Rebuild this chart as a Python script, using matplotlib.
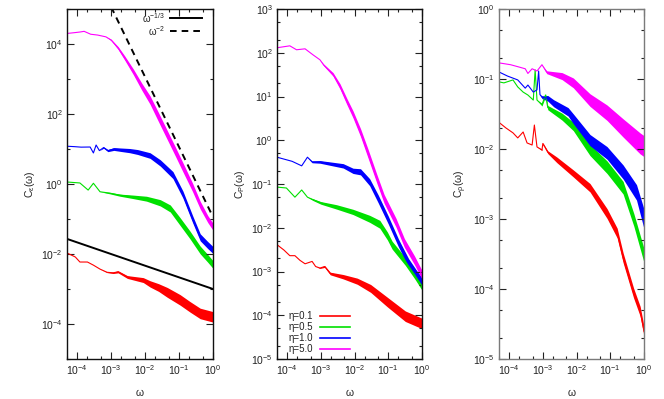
import numpy as np
import matplotlib
matplotlib.use("Agg")
import matplotlib.pyplot as plt
from matplotlib.ticker import FixedLocator, LogLocator, FuncFormatter, NullFormatter

plt.rcParams['font.family'] = ['Liberation Sans', 'DejaVu Sans']
plt.rcParams['mathtext.default'] = 'regular'

# ---------------- data ----------------
labels = ['η=0.1', 'η=0.5', 'η=1.0', 'η=5.0']
colors = ['#ff0000', '#00e000', '#0000ff', '#ff00ff']

# Panel 1: C_eps(omega)
eps01_w = [5e-5, 8.8e-5, 1.2e-4, 2e-4, 3e-4, 4.7e-4, 7.6e-4, 1.15e-3, 1.6e-3, 3e-3, 8.8e-3, 1.4e-2, 2.5e-2, 4.5e-2, 0.107, 0.21, 0.42, 1.0]
eps01_c = [0.0107, 0.0082, 0.0059, 0.0059, 0.0048, 0.0037, 0.003, 0.0029, 0.0031, 0.0022, 0.0018, 0.0014, 0.0011, 8e-4, 4.9e-4, 3.1e-4, 2.0e-4, 1.6e-4]
eps01_s = [0, 0, 0, 0, 0, 0, 0.01, 0.02, 0.03, 0.04, 0.07, 0.09, 0.11, 0.14, 0.15, 0.15, 0.15, 0.15]

eps05_w = [5e-5, 1.2e-4, 2.1e-4, 3e-4, 4.7e-4, 9e-4, 1.8e-3, 4.4e-3, 1.1e-2, 2.8e-2, 5.5e-2, 0.107, 0.21, 0.42, 0.7, 1.0]
eps05_c = [1.14, 1.07, 0.67, 1.05, 0.6, 0.55, 0.48, 0.43, 0.38, 0.29, 0.2, 0.085, 0.035, 0.013, 0.0075, 0.005]
eps05_s = [0, 0, 0, 0, 0, 0.02, 0.03, 0.05, 0.07, 0.09, 0.1, 0.11, 0.11, 0.11, 0.11, 0.11]

eps1_w = [5e-5, 8e-5, 1.3e-4, 2.4e-4, 3e-4, 3.6e-4, 4.5e-4, 6e-4, 8e-4, 1.2e-3, 2e-3, 3.5e-3, 6e-3, 1.4e-2, 2.8e-2, 6.6e-2, 0.13, 0.25, 0.42, 0.7, 1.0]
eps1_c = [12, 11.7, 11.3, 11.4, 7.7, 13, 9, 11, 9, 10, 9.5, 9, 8.2, 6.5, 4, 1.8, 0.5, 0.1, 0.03, 0.018, 0.013]
eps1_s = [0, 0, 0, 0, 0, 0, 0, 0.02, 0.03, 0.04, 0.05, 0.06, 0.07, 0.08, 0.09, 0.1, 0.1, 0.1, 0.1, 0.1, 0.1]

eps5_w = [5e-5, 8e-5, 1.2e-4, 1.6e-4, 2.5e-4, 4e-4, 7e-4, 1e-3, 1.6e-3, 2.5e-3, 4.5e-3, 8e-3, 1.4e-2, 2.5e-2, 4.5e-2, 8e-2, 0.13, 0.25, 0.42, 0.7, 1.0]
eps5_c = [2.0e4, 2.1e4, 2.2e4, 2.3e4, 1.9e4, 1.8e4, 1.6e4, 1.3e4, 7.7e3, 4e3, 1.6e3, 6e2, 2.5e2, 80, 25, 8, 3, 0.8, 0.25, 0.1, 0.06]
eps5_s = [0, 0, 0, 0, 0, 0, 0, 0.02, 0.04, 0.06, 0.08, 0.1, 0.12, 0.13, 0.13, 0.13, 0.13, 0.12, 0.11, 0.1, 0.1]

guide13_w = [5e-5, 1.0]
guide13_c = [0.027, 1e-3]
guide2_w = [1e-3, 1.0]
guide2_c = [1.14e5, 0.114]

# Panel 2: C_P(omega)
P01_w = [5e-5, 8e-5, 1.2e-4, 1.7e-4, 2.4e-4, 3.4e-4, 5.5e-4, 7e-4, 9.4e-4, 1.3e-3, 1.9e-3, 4.6e-3, 1.2e-2, 3e-2, 9.4e-2, 0.32, 1.0]
P01_c = [4.1e-3, 3.1e-3, 2.3e-3, 2.3e-3, 1.8e-3, 1.5e-3, 1.7e-3, 1.3e-3, 1.2e-3, 1.3e-3, 9e-4, 7.6e-4, 6e-4, 4.1e-4, 2e-4, 9.5e-5, 6.5e-5]
P01_s = [0, 0, 0, 0, 0, 0, 0, 0, 0.01, 0.02, 0.03, 0.05, 0.07, 0.09, 0.11, 0.12, 0.12]

P05_w = [5e-5, 9.5e-5, 1.7e-4, 2.7e-4, 4e-4, 5.8e-4, 1e-3, 2.9e-3, 9e-3, 2.8e-2, 5.6e-2, 9.4e-2, 0.13, 0.32, 0.6, 1.0]
P05_c = [0.085, 0.081, 0.05, 0.073, 0.05, 0.044, 0.037, 0.030, 0.023, 0.016, 0.012, 6.5e-3, 4e-3, 1.7e-3, 8.5e-4, 4.6e-4]
P05_s = [0, 0, 0, 0, 0, 0.02, 0.03, 0.05, 0.06, 0.08, 0.09, 0.09, 0.09, 0.09, 0.09, 0.09]

P1_w = [5e-5, 1.4e-4, 2.7e-4, 4e-4, 5.5e-4, 9.4e-4, 2e-3, 4.6e-3, 9e-3, 1.5e-2, 2.8e-2, 5e-2, 0.1, 0.2, 0.4, 0.7, 1.0]
P1_c = [0.41, 0.33, 0.26, 0.41, 0.32, 0.32, 0.29, 0.26, 0.2, 0.19, 0.11, 0.046, 0.015, 4.5e-3, 1.6e-3, 8.5e-4, 5.9e-4]
P1_s = [0, 0, 0, 0, 0.02, 0.03, 0.04, 0.05, 0.06, 0.07, 0.08, 0.09, 0.09, 0.09, 0.09, 0.09, 0.09]

P5_w = [5e-5, 1.2e-4, 1.9e-4, 3.4e-4, 5.8e-4, 9.4e-4, 1.2e-3, 2.3e-3, 3.7e-3, 5.9e-3, 9e-3, 1.5e-2, 2.5e-2, 4.6e-2, 7.5e-2, 0.17, 0.3, 0.6, 1.0]
P5_c = [130, 144, 117, 123, 90, 69, 53, 32, 17, 7.7, 3.9, 1.5, 0.5, 0.13, 0.046, 0.013, 4.5e-3, 1.8e-3, 8.4e-4]
P5_s = [0, 0, 0, 0, 0, 0, 0.02, 0.04, 0.06, 0.07, 0.08, 0.09, 0.1, 0.1, 0.1, 0.1, 0.1, 0.1, 0.1]

# Panel 3: C_rho(omega)
rho01_w = [5e-5, 8e-5, 1.3e-4, 1.8e-4, 2.6e-4, 3.4e-4, 4.8e-4, 5.6e-4, 6.7e-4, 9.4e-4, 1e-3, 1.4e-3, 2.6e-3, 7.9e-3, 2.5e-2, 8e-2, 0.16, 0.24, 0.49, 0.77, 1.0]
rho01_c = [0.024, 0.02, 0.017, 0.0144, 0.0175, 0.0122, 0.0114, 0.022, 0.0107, 0.0097, 0.012, 0.009, 0.007, 0.0045, 0.0028, 0.0012, 6.3e-4, 2.8e-4, 8.8e-5, 4.8e-5, 2.5e-5]
rho01_s = [0, 0, 0, 0, 0, 0, 0, 0, 0, 0.01, 0.01, 0.02, 0.04, 0.05, 0.06, 0.07, 0.07, 0.07, 0.07, 0.07, 0.07]

rho05_w = [5e-5, 7e-5, 1.3e-4, 1.8e-4, 2.6e-4, 3.6e-4, 5.2e-4, 5.9e-4, 6.7e-4, 9.4e-4, 1.2e-3, 1.4e-3, 3.7e-3, 8e-3, 2.5e-2, 8e-2, 0.24, 0.5, 1.0]
rho05_c = [0.091, 0.088, 0.097, 0.077, 0.065, 0.059, 0.05, 0.135, 0.05, 0.043, 0.059, 0.039, 0.029, 0.021, 9.7e-3, 5.5e-3, 2.8e-3, 9.7e-4, 3.0e-4]
rho05_s = [0, 0, 0, 0, 0, 0, 0, 0, 0, 0.02, 0.02, 0.03, 0.05, 0.06, 0.08, 0.09, 0.09, 0.09, 0.1]

rho1_w = [5e-5, 9e-5, 1.8e-4, 3e-4, 3.6e-4, 5.2e-4, 6.7e-4, 7.5e-4, 8.2e-4, 9.4e-4, 1.4e-3, 2.1e-3, 5.6e-3, 8e-3, 2.5e-2, 8e-2, 0.24, 0.6, 1.0]
rho1_c = [0.126, 0.11, 0.097, 0.074, 0.082, 0.065, 0.07, 0.13, 0.06, 0.055, 0.053, 0.045, 0.034, 0.027, 0.0134, 8.8e-3, 4.7e-3, 2.4e-3, 1.0e-3]
rho1_s = [0, 0, 0, 0, 0, 0, 0, 0, 0, 0.02, 0.04, 0.05, 0.06, 0.07, 0.08, 0.09, 0.1, 0.11, 0.14]

rho5_w = [5e-5, 1.1e-4, 1.8e-4, 3e-4, 3.6e-4, 4.8e-4, 6.7e-4, 9.4e-4, 1.3e-3, 3.7e-3, 8e-3, 2.5e-2, 8e-2, 0.24, 0.77, 1.0]
rho5_c = [0.17, 0.16, 0.15, 0.14, 0.12, 0.14, 0.13, 0.16, 0.125, 0.11, 0.088, 0.05, 0.033, 0.02, 0.012, 0.011]
rho5_s = [0, 0, 0, 0, 0, 0, 0, 0, 0.02, 0.05, 0.07, 0.09, 0.11, 0.13, 0.15, 0.15]

x_ticks = [1e-4, 1e-3, 1e-2, 1e-1, 1e0]

# ---------------- figure ----------------
W, H = 664, 399
fig = plt.figure(figsize=(W / 100, H / 100), dpi=100)


def axes_px(l, t, w, h):
    return fig.add_axes([l / W, 1 - (t + h) / H, w / W, h / H])


ax1 = axes_px(67, 9, 146, 350)
ax2 = axes_px(277, 9, 145, 350)
ax3 = axes_px(499, 9, 145, 350)

TXT = '#222222'
FS = 7.5
KFS = 7


def draw(ax, w, c, s, color):
    w = np.asarray(w); c = np.asarray(c); s = np.asarray(s)
    ax.fill_between(w, c * 10 ** (-s), c * 10 ** s, color=color, lw=0)
    ax.plot(w, c, color=color, lw=0.8)


def sci(v, pos):
    return r'$10^{%d}$' % int(round(np.log10(v)))


def style(ax, ylim, ymajor, yminor, spine_color):
    ax.set_xscale('log'); ax.set_yscale('log')
    ax.set_xlim(5e-5, 1.0)
    ax.set_ylim(*ylim)
    ax.xaxis.set_major_locator(FixedLocator(x_ticks))
    ax.xaxis.set_minor_locator(LogLocator(base=10, subs=(2, 5), numticks=30))
    ax.yaxis.set_major_locator(FixedLocator(ymajor))
    ax.yaxis.set_minor_locator(yminor)
    ax.xaxis.set_major_formatter(FuncFormatter(sci))
    ax.yaxis.set_major_formatter(FuncFormatter(sci))
    ax.xaxis.set_minor_formatter(NullFormatter())
    ax.yaxis.set_minor_formatter(NullFormatter())
    ax.tick_params(which='both', direction='in', top=True, right=True,
                   labelsize=FS, labelcolor=TXT, color='#222222', width=0.8)
    ax.tick_params(which='major', length=5, pad=3)
    ax.tick_params(which='minor', length=2.5)
    for sp in ax.spines.values():
        sp.set_color(spine_color)
        sp.set_linewidth(1.0)
    ax.set_xlabel('ω', fontsize=FS, color=TXT)
    ax.xaxis.set_label_coords(0.5, -0.083)


def ax_frac(ax_l, ax_w, px, py):
    return (px - ax_l) / ax_w, (359 - py) / 350


# Panel 1
for (w, c, s), col in zip([(eps01_w, eps01_c, eps01_s), (eps05_w, eps05_c, eps05_s),
                           (eps1_w, eps1_c, eps1_s), (eps5_w, eps5_c, eps5_s)], colors):
    draw(ax1, w, c, s, col)
ax1.plot(guide13_w, guide13_c, color='k', lw=1.4)
ax1.plot(guide2_w, guide2_c, color='k', lw=1.4, ls=(0, (3.4, 2.6)))
style(ax1, (1e-5, 1e5), [1e-4, 1e-2, 1e0, 1e2, 1e4],
      FixedLocator([1e-5, 1e-3, 1e-1, 1e1, 1e3, 1e5]), '#111111')
ax1.set_ylabel(r'C$_{ε}$(ω)', fontsize=FS, color=TXT)
ax1.yaxis.set_label_coords(-0.205, 0.5)

# gnuplot-style key, panel 1
for lab, ls, py in [(r'ω$^{-1/3}$', '-', 18), (r'ω$^{-2}$', (0, (3.4, 2.6)), 31)]:
    tx, ty = ax_frac(67, 146, 165, py)
    ax1.text(tx, ty, lab, transform=ax1.transAxes, ha='right', va='center', fontsize=KFS, color=TXT)
    x0, y0 = ax_frac(67, 146, 170, py)
    x1, _ = ax_frac(67, 146, 202, py)
    ax1.plot([x0, x1], [y0, y0], transform=ax1.transAxes, color='k', lw=1.4, ls=ls, clip_on=False)

# Panel 2
for (w, c, s), col in zip([(P01_w, P01_c, P01_s), (P05_w, P05_c, P05_s),
                           (P1_w, P1_c, P1_s), (P5_w, P5_c, P5_s)], colors):
    draw(ax2, w, c, s, col)
style(ax2, (1e-5, 1e3), [10.0 ** k for k in range(-5, 4)],
      LogLocator(base=10, subs=(2, 5), numticks=30), '#111111')
ax2.set_ylabel(r'C$_{P}$(ω)', fontsize=FS, color=TXT)
ax2.yaxis.set_label_coords(-0.205, 0.5)

for lab, col, py in zip(labels, colors, [316, 327, 338, 349]):
    tx, ty = ax_frac(277, 145, 313, py)
    ax2.text(tx, ty, lab, transform=ax2.transAxes, ha='right', va='center', fontsize=KFS, color=TXT)
    x0, y0 = ax_frac(277, 145, 320, py)
    x1, _ = ax_frac(277, 145, 350, py)
    ax2.plot([x0, x1], [y0, y0], transform=ax2.transAxes, color=col, lw=1.2)

# Panel 3
for (w, c, s), col in zip([(rho01_w, rho01_c, rho01_s), (rho05_w, rho05_c, rho05_s),
                           (rho1_w, rho1_c, rho1_s), (rho5_w, rho5_c, rho5_s)], colors):
    draw(ax3, w, c, s, col)
style(ax3, (1e-5, 1e0), [10.0 ** k for k in range(-5, 1)],
      LogLocator(base=10, subs=(2, 5), numticks=30), '#7a7a7a')
ax3.set_ylabel(r'C$_{ρ}$(ω)', fontsize=FS, color=TXT)
ax3.yaxis.set_label_coords(-0.205, 0.5)

fig.savefig('out.png', dpi=100)
